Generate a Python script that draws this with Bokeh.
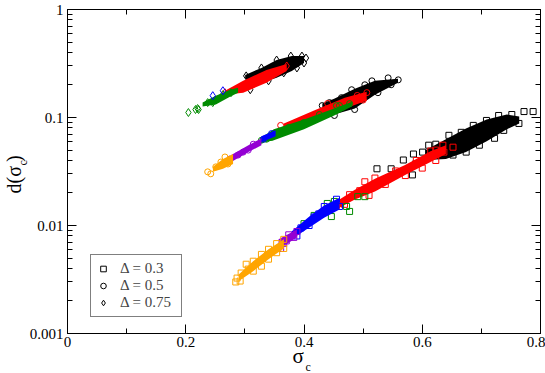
import math
from bokeh.plotting import figure
from bokeh.models import (FixedTicker, LinearAxis, LogAxis, Label, Legend, LegendItem,
                          CustomJSTickFormatter)
from bokeh.embed import file_html
from bokeh.resources import INLINE

# ---------------- data ----------------
X_TICKS = [0.0, 0.2, 0.4, 0.6, 0.8]
X_MINOR = [0.1, 0.3, 0.5, 0.7]
X_LABELS = ["0", "0.2", "0.4", "0.6", "0.8"]
Y_TICKS = [0.001, 0.01, 0.1, 1.0]
Y_LABELS = ["0.001", "0.01", "0.1", "1"]
Y_MINOR = [m * d for d in (0.001, 0.01, 0.1) for m in range(2, 10)]
LEGEND_LABELS = ["\u0394 = 0.3", "\u0394 = 0.5", "\u0394 = 0.75"]

# Delta = 0.3 (squares): scattered points (x, y) and dense-core envelopes (x, y_low, y_high)
C_black_pts = [(0.5234, 0.0335), (0.5474, 0.0335), (0.5680, 0.0404), (0.5834, 0.0294), (0.5851, 0.0459),
               (0.5886, 0.0371), (0.6006, 0.0478), (0.6109, 0.0554), (0.6229, 0.0566), (0.6451, 0.0684),
               (0.6520, 0.0449), (0.6660, 0.0729), (0.6743, 0.0478), (0.6863, 0.0845), (0.6966, 0.0554),
               (0.7086, 0.0939), (0.7223, 0.0642), (0.7292, 0.1044), (0.7378, 0.0760), (0.7515, 0.1066),
               (0.7635, 0.0881), (0.7721, 0.1135), (0.7875, 0.1135)]
C_black_band = [(0.606, 0.0404, 0.0499), (0.640, 0.0413, 0.0629), (0.674, 0.0478, 0.0792),
                (0.709, 0.0602, 0.0959), (0.743, 0.0777, 0.1066), (0.764, 0.0881, 0.1021)]
C_red_pts = [(0.4548, 0.0153), (0.4685, 0.0157), (0.4771, 0.0193), (0.4943, 0.0210), (0.5100, 0.0190),
             (0.5029, 0.0254), (0.5200, 0.0275), (0.5375, 0.0240), (0.5375, 0.0265), (0.5550, 0.0320),
             (0.5714, 0.0290), (0.5900, 0.0400), (0.6000, 0.0340), (0.6143, 0.0490), (0.6229, 0.0400),
             (0.6229, 0.0499), (0.6349, 0.0554), (0.6366, 0.0478), (0.6520, 0.0531)]
C_red_band = [(0.460, 0.0146, 0.0174), (0.486, 0.0174, 0.0214), (0.520, 0.0206, 0.0271),
              (0.571, 0.0294, 0.0363), (0.614, 0.0387, 0.0488), (0.640, 0.0459, 0.0554)]
C_green_pts = [(0.4000, 0.0104), (0.4171, 0.0124), (0.4394, 0.0160), (0.4463, 0.0121), (0.4514, 0.0167),
               (0.4720, 0.0150), (0.4771, 0.0135), (0.4909, 0.0185), (0.5029, 0.0185)]
C_green_band = []
C_blue_pts = [(0.3880, 0.0080), (0.3948, 0.0095), (0.4086, 0.0100), (0.4171, 0.0120), (0.4250, 0.0128),
              (0.4343, 0.0150), (0.4430, 0.0140), (0.4550, 0.0175), (0.4600, 0.0150)]
C_blue_band = [(0.379, 0.00744, 0.00880), (0.409, 0.00959, 0.0121), (0.434, 0.0118, 0.0153),
               (0.460, 0.0141, 0.0181)]
C_purple_pts = [(0.3605, 0.00613), (0.3657, 0.00684), (0.3700, 0.00720), (0.3742, 0.00820),
                (0.3828, 0.00776), (0.3880, 0.00880)]
C_purple_band = [(0.357, 0.00602, 0.00744), (0.388, 0.00776, 0.00919)]
C_orange_pts = [(0.2846, 0.00300), (0.2868, 0.00326), (0.2920, 0.00306), (0.2937, 0.00363),
                (0.3022, 0.00438), (0.3057, 0.00395), (0.3142, 0.00467), (0.3142, 0.00378),
                (0.3280, 0.00540), (0.3280, 0.00420), (0.3400, 0.00602), (0.3400, 0.00488),
                (0.3537, 0.00680), (0.3537, 0.00560), (0.3657, 0.00744), (0.3657, 0.00613)]
C_orange_band = [(0.290, 0.00306, 0.00354), (0.314, 0.00378, 0.00467), (0.340, 0.00488, 0.00602),
                 (0.366, 0.00613, 0.00744)]

# Delta = 0.5 (circles)
B_black_pts = [(0.4308, 0.1290), (0.4431, 0.1374), (0.4514, 0.1044), (0.4634, 0.1527), (0.4806, 0.1808),
               (0.4857, 0.1185), (0.5029, 0.2009), (0.5149, 0.2186), (0.5251, 0.1697), (0.5423, 0.2329),
               (0.5474, 0.2009), (0.5594, 0.2232)]
B_black_band = [(0.431, 0.1210, 0.1345), (0.451, 0.1066, 0.1495), (0.486, 0.1210, 0.1846),
                (0.520, 0.1627, 0.2186), (0.559, 0.2096, 0.2280)]
B_red_pts = [(0.3605, 0.0845), (0.4300, 0.1120), (0.4400, 0.1350), (0.4900, 0.1600), (0.5000, 0.1450),
             (0.5063, 0.1700)]
B_red_band = [(0.366, 0.0792, 0.0881), (0.417, 0.0939, 0.1160), (0.469, 0.1210, 0.1527),
              (0.506, 0.1433, 0.1733)]
B_green_pts = [(0.3280, 0.0616), (0.3365, 0.0629), (0.3451, 0.0656), (0.3742, 0.0810), (0.4000, 0.0900),
               (0.4260, 0.1066), (0.4548, 0.1290), (0.4600, 0.1290), (0.4771, 0.1345)]
B_green_band = [(0.326, 0.0577, 0.0642), (0.349, 0.0616, 0.0777), (0.400, 0.0777, 0.0959),
                (0.451, 0.1044, 0.1210), (0.481, 0.1263, 0.1402)]
B_blue_pts = [(0.3314, 0.0629), (0.3451, 0.0710)]
B_blue_band = [(0.328, 0.0590, 0.0669), (0.352, 0.0669, 0.0760)]
B_purple_pts = [(0.2748, 0.0413), (0.2885, 0.0449), (0.2971, 0.0478), (0.3057, 0.0499), (0.3142, 0.0566)]
B_purple_band = [(0.277, 0.0387, 0.0449), (0.306, 0.0478, 0.0554), (0.328, 0.0554, 0.0642)]
B_orange_pts = [(0.2371, 0.0314), (0.2423, 0.0301), (0.2508, 0.0349), (0.2594, 0.0387), (0.2663, 0.0431),
                (0.2714, 0.0371)]
B_orange_band = [(0.246, 0.0314, 0.0349), (0.263, 0.0335, 0.0413), (0.280, 0.0371, 0.0459)]

# Delta = 0.75 (diamonds)
A_black_pts = [(0.3022, 0.2428), (0.3091, 0.1808), (0.3280, 0.2876), (0.3400, 0.2186), (0.3537, 0.3406),
               (0.3657, 0.2588), (0.3777, 0.3706), (0.3880, 0.2876), (0.3965, 0.3706), (0.4000, 0.3197),
               (0.4034, 0.3553)]
A_black_band = [(0.3005, 0.2280, 0.2481), (0.3280, 0.2096, 0.2876), (0.3537, 0.2329, 0.3406),
                (0.3794, 0.2700, 0.3706), (0.4000, 0.3197, 0.3706)]
A_red_pts = [(0.2663, 0.1697), (0.3142, 0.2096), (0.3485, 0.2588), (0.3708, 0.3000)]
A_red_band = [(0.2663, 0.1627, 0.1770), (0.2971, 0.1697, 0.2186), (0.3365, 0.2096, 0.2757),
              (0.3708, 0.2700, 0.3130)]
A_green_pts = [(0.2045, 0.1112), (0.2165, 0.1185), (0.2200, 0.1210), (0.2217, 0.1185), (0.2371, 0.1374),
               (0.2457, 0.1374), (0.2628, 0.1627), (0.2765, 0.1697)]
A_green_band = [(0.2285, 0.1263, 0.1374), (0.2508, 0.1317, 0.1593), (0.2748, 0.1559, 0.1808),
                (0.2885, 0.1697, 0.1886)]
A_blue_pts = [(0.2457, 0.1593), (0.2628, 0.1770)]
A_blue_band = []

COLORS = {"black": "#000000", "red": "#ff0000", "green": "#008b00",
          "blue": "#0000ff", "purple": "#9400d3", "orange": "#ffa500"}

clusters = [
    ("square", 6, [("black", C_black_pts, C_black_band), ("red", C_red_pts, C_red_band),
                   ("green", C_green_pts, C_green_band), ("blue", C_blue_pts, C_blue_band),
                   ("purple", C_purple_pts, C_purple_band), ("orange", C_orange_pts, C_orange_band)]),
    ("circle", 6, [("black", B_black_pts, B_black_band), ("red", B_red_pts, B_red_band),
                   ("green", B_green_pts, B_green_band), ("blue", B_blue_pts, B_blue_band),
                   ("purple", B_purple_pts, B_purple_band), ("orange", B_orange_pts, B_orange_band)]),
    ("diamond", 8, [("black", A_black_pts, A_black_band), ("red", A_red_pts, A_red_band),
                    ("green", A_green_pts, A_green_band), ("blue", A_blue_pts, A_blue_band)]),
]

FONT = "Liberation Serif"

p = figure(width=545, height=373, x_range=(0, 0.8), y_range=(0.001, 1), y_axis_type="log",
           output_backend="svg", toolbar_location=None,
           min_border_left=67, min_border_right=0, min_border_top=9, min_border_bottom=40)
p.grid.visible = False
p.outline_line_color = "black"
p.background_fill_color = "white"
p.border_fill_color = "white"

for marker, size, groups in clusters:
    for cname, pts, band in groups:
        col = COLORS[cname]
        if band:
            p.varea(x=[b[0] for b in band], y1=[b[1] for b in band], y2=[b[2] for b in band],
                    fill_color=col, fill_alpha=1.0)
        p.scatter(x=[q[0] for q in pts], y=[q[1] for q in pts], marker=marker, size=size,
                  line_color=col, line_width=1, fill_color=None)

def style_axis(ax):
    ax.axis_line_color = "black"
    ax.axis_line_width = 1
    ax.major_tick_in = 9
    ax.major_tick_out = 0
    ax.minor_tick_in = 5
    ax.minor_tick_out = 0
    ax.major_tick_line_color = "black"
    ax.minor_tick_line_color = "black"
    ax.major_label_text_font = FONT
    ax.major_label_text_color = "black"
    ax.major_label_text_font_size = "15px"

bottom = p.below[0]
left = p.left[0]
bottom.ticker = FixedTicker(ticks=X_TICKS, minor_ticks=X_MINOR)
bottom.major_label_overrides = {t: l for t, l in zip(X_TICKS, X_LABELS)}
bottom.major_label_standoff = 3
left.ticker = FixedTicker(ticks=Y_TICKS, minor_ticks=Y_MINOR)
left.major_label_overrides = {t: l for t, l in zip(Y_TICKS, Y_LABELS)}
left.major_label_standoff = 4
style_axis(bottom)
style_axis(left)

# mirrored axes (ticks only)
top = LinearAxis(ticker=FixedTicker(ticks=X_TICKS, minor_ticks=X_MINOR),
                 formatter=CustomJSTickFormatter(code="return ''"))
right = LogAxis(ticker=FixedTicker(ticks=Y_TICKS, minor_ticks=Y_MINOR),
                formatter=CustomJSTickFormatter(code="return ''"))
for ax in (top, right):
    style_axis(ax)
    ax.major_label_text_font_size = "1px"
    ax.major_label_standoff = 0
    ax.axis_label_standoff = 0
p.add_layout(top, "above")
p.add_layout(right, "right")

# axis titles with subscripts, placed in side panels (not clipped); x, y are relative
# to each label's own panel box
def title_label(x, y, text, size, angle=0.0):
    return Label(x=x, y=y, x_units="screen", y_units="screen", text=text, angle=angle,
                 text_font=FONT, text_font_size=size, text_color="black",
                 text_baseline="alphabetic", text_align="left")

p.add_layout(title_label(225, 18, "\u03c3", "21px"), "below")
p.add_layout(title_label(-235, -33, "c", "12px"), "right")
p.add_layout(title_label(9, 140, "d(\u03c3\u2009)", "20px", math.pi / 2), "left")
p.add_layout(title_label(-45, -156, "c", "12px", math.pi / 2), "above")

# legend (dummy renderers placed outside the visible x range)
leg_renderers = []
for marker in ("square", "circle", "diamond"):
    r = p.scatter(x=[-1.0], y=[0.5], marker=marker, size=6, line_color="black", line_width=1,
                  fill_color=None)
    leg_renderers.append(r)
legend = Legend(items=[LegendItem(label=lab, renderers=[r]) for lab, r in zip(LEGEND_LABELS, leg_renderers)],
                location=(23, 16), margin=0, padding=5, spacing=0,
                glyph_width=14, glyph_height=15, label_height=15, label_width=56, label_standoff=10,
                label_text_font=FONT, label_text_font_size="15px", label_text_line_height=1.0,
                border_line_color="black", border_line_width=1,
                background_fill_color="white", background_fill_alpha=1.0)
p.add_layout(legend)

open("out.html", "w").write(file_html(p, INLINE))
